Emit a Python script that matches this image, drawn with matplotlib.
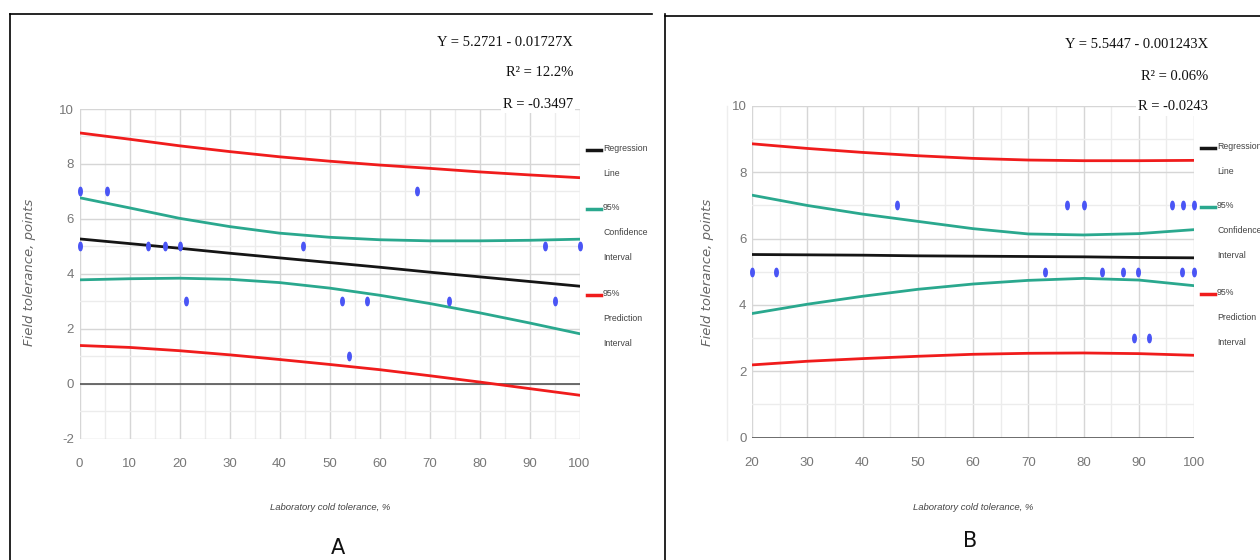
import matplotlib
matplotlib.use("Agg")
import matplotlib.pyplot as plt
import numpy as np
from matplotlib.path import Path
from matplotlib.lines import Line2D

plt.rcParams['axes.unicode_minus'] = False
NARROW = 'Liberation Sans'

# ---- panel A data ----
a_pts_x = [0, 5.4, 67.5, 0, 13.6, 17.1, 20, 44.7, 93, 100, 21.3, 52.4, 57.4, 73.8, 95, 53.8]
a_pts_y = [7, 7, 7, 5, 5, 5, 5, 5, 5, 5, 3, 3, 3, 3, 3, 1]
a_band_x = [0, 10, 20, 30, 40, 50, 60, 70, 80, 90, 100]
a_reg = [5.27, 5.10, 4.93, 4.75, 4.58, 4.41, 4.24, 4.06, 3.89, 3.72, 3.55]
a_ci_up = [6.77, 6.40, 6.02, 5.72, 5.48, 5.33, 5.24, 5.20, 5.20, 5.22, 5.26]
a_ci_lo = [3.78, 3.82, 3.84, 3.80, 3.68, 3.48, 3.22, 2.92, 2.58, 2.21, 1.82]
a_pi_up = [9.13, 8.90, 8.66, 8.45, 8.26, 8.10, 7.96, 7.84, 7.71, 7.60, 7.50]
a_pi_lo = [1.39, 1.32, 1.20, 1.05, 0.88, 0.70, 0.51, 0.29, 0.06, -0.18, -0.42]

# ---- panel B data ----
b_pts_x = [46.2, 77.0, 80.1, 96.0, 98.0, 100, 20, 24.3, 73.0, 83.4, 87.2, 89.9, 97.8, 100, 89.2, 91.9]
b_pts_y = [7, 7, 7, 7, 7, 7, 5, 5, 5, 5, 5, 5, 5, 5, 3, 3]
b_band_x = [20, 30, 40, 50, 60, 70, 80, 90, 100]
b_reg = [5.52, 5.51, 5.50, 5.48, 5.47, 5.46, 5.45, 5.43, 5.42]
b_ci_up = [7.31, 7.00, 6.74, 6.52, 6.30, 6.14, 6.11, 6.15, 6.27]
b_ci_lo = [3.74, 4.02, 4.26, 4.47, 4.63, 4.74, 4.80, 4.75, 4.58]
b_pi_up = [8.86, 8.72, 8.60, 8.50, 8.42, 8.37, 8.35, 8.35, 8.36]
b_pi_lo = [2.19, 2.30, 2.38, 2.45, 2.51, 2.54, 2.55, 2.53, 2.48]

a_stats = ["Y = 5.2721 - 0.01727X", "R² = 12.2%", "R = -0.3497"]
b_stats = ["Y = 5.5447 - 0.001243X", "R² = 0.06%", "R = -0.0243"]
legend_labels = ["Regression\nLine", "95%\nConfidence\nInterval", "95%\nPrediction\nInterval"]

RED = '#f01c1c'
TEAL = '#2aa88e'
BLACK = '#151515'
BLUE = '#4a55f5'

t = np.linspace(0, 2 * np.pi, 40)
ell = Path(np.column_stack([0.42 * np.cos(t), np.sin(t)]), closed=True)

W, H = 1260, 560
fig = plt.figure(figsize=(12.6, 5.6), dpi=100)


def fx(px):
    return px / W


def fy(py):
    return 1 - py / H


def panel(rect, xlim, ylim, xticks, px, py, bx, reg, ciu, cil, piu, pil,
          stats, stat_x, stat_y, leg_x, leg_y, ylab_x, xlab_x, letter, letter_xy):
    ax = fig.add_axes(rect)
    ax.set_xlim(*xlim)
    ax.set_ylim(*ylim)
    ax.set_xticks(xticks)
    ax.set_xticks(np.arange(xlim[0] + 5, xlim[1], 10), minor=True)
    ax.set_yticks(np.arange(ylim[0], ylim[1] + 1, 2))
    ax.set_yticks(np.arange(ylim[0] + 1, ylim[1], 2), minor=True)
    ax.grid(True, which='major', color='#d6d6d6', lw=1)
    ax.grid(True, which='minor', color='#ececec', lw=1)
    ax.set_axisbelow(True)
    for s in ax.spines.values():
        s.set_visible(False)
    ax.tick_params(which='both', length=0, labelsize=9.5, labelcolor='#777777')
    ax.tick_params(axis='x', pad=14)
    ax.tick_params(axis='y', pad=4)
    for lab in ax.get_xticklabels() + ax.get_yticklabels():
        lab.set_family(NARROW)
    ax.axhline(0, color='#555555', lw=1.2, zorder=1)

    ax.plot(bx, piu, color=RED, lw=2)
    ax.plot(bx, pil, color=RED, lw=2)
    ax.plot(bx, ciu, color=TEAL, lw=2)
    ax.plot(bx, cil, color=TEAL, lw=2)
    ax.plot(bx, reg, color=BLACK, lw=2)
    ax.plot(px, py, ls='none', marker=ell, ms=6, color=BLUE, clip_on=False, zorder=5)

    for i, s in enumerate(stats):
        fig.text(fx(stat_x), fy(stat_y[i]), s, ha='right', va='center',
                 family='Liberation Serif', fontsize=10.5, color='#111111',
                 bbox=dict(facecolor='white', edgecolor='none', pad=1.5))

    cols = [BLACK, TEAL, RED]
    for lab, c, yy in zip(legend_labels, cols, leg_y):
        fig.add_artist(Line2D([fx(leg_x), fx(leg_x + 14)], [fy(yy), fy(yy)],
                              color=c, lw=2.5, transform=fig.transFigure))
        fig.text(fx(leg_x + 16), fy(yy - 6), lab, ha='left', va='top', family=NARROW,
                 fontsize=6.3, color='#444444', linespacing=3.3)

    fig.text(fx(ylab_x), fy(272), "Field tolerance, points", rotation=90,
             ha='center', va='center', style='italic', fontsize=9.5, color='#666666')
    fig.text(fx(xlab_x), fy(507), "Laboratory cold tolerance, %", ha='center',
             va='center', style='italic', family=NARROW, fontsize=6.8, color='#444444')
    fig.text(fx(letter_xy[0]), fy(letter_xy[1]), letter, ha='center', va='center',
             fontsize=15, color='#111111')
    return ax


axA = panel([fx(79.5), fy(438.6), fx(579.5 - 79.5), (438.6 - 109) / H],
            (0, 100), (-2, 10), np.arange(0, 101, 10),
            a_pts_x, a_pts_y, a_band_x, a_reg, a_ci_up, a_ci_lo, a_pi_up, a_pi_lo,
            a_stats, 573, [42, 73, 104], 587, [150, 209, 295], 29, 330, "A", (338, 548))

axB = panel([fx(752), fy(437.5), fx(1194 - 752), (437.5 - 106) / H],
            (20, 100), (0, 10), np.arange(20, 101, 10),
            b_pts_x, b_pts_y, b_band_x, b_reg, b_ci_up, b_ci_lo, b_pi_up, b_pi_lo,
            b_stats, 1208, [45, 76, 107], 1201, [148, 207, 294], 708, 973, "B", (970, 541))

# faint vertical rule left of panel B ticks
fig.add_artist(Line2D([fx(727), fx(727)], [fy(106), fy(440)], color='#eeeeee', lw=1,
                      transform=fig.transFigure))

# panel frames
frame = dict(color='black', lw=1.2, transform=fig.transFigure)
fig.add_artist(Line2D([fx(10), fx(652)], [fy(14), fy(14)], **frame))
fig.add_artist(Line2D([fx(10), fx(10)], [fy(14), 0], **frame))
fig.add_artist(Line2D([fx(664.5), fx(664.5)], [fy(14), 0], **frame))
fig.add_artist(Line2D([fx(664.5), fx(1260)], [fy(16), fy(16)], **frame))

fig.savefig("out.png", dpi=100)
